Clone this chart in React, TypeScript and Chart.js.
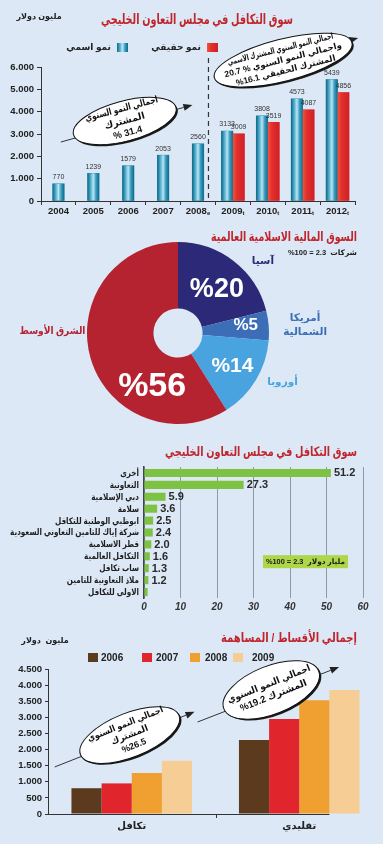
import React, { useEffect, useRef } from 'react';
import { Chart, registerables } from 'chart.js';
Chart.register(...registerables);

const FONT = "'Liberation Sans', 'DejaVu Sans', Arial, sans-serif";
const BG = '#dce8f5';
const TITLE_RED = '#c0262d';
const LRM = '\u200E';

// ---------- Chart 1: GCC takaful market (USD million)
const gccTitle = 'سوق التكافل في مجلس التعاون الخليجي';
const gccUnit = 'مليون دولار';
const gccYears = ['2004', '2005', '2006', '2007', '2008e', '2009t', '2010t', '2011t', '2012t'];
const gccNominal = [770, 1239, 1579, 2053, 2560, 3133, 3808, 4573, 5439];
const gccReal = [null, null, null, null, null, 3009, 3519, 4087, 4856];
const gccSeriesNames = ['نمو اسمي', 'نمو حقيقي'];
const gccBubbleA = ['اجمالي النمو السنوي', 'المشترك', '% 31.4'];
const gccBubbleB = ['اجمالي النمو السنوي المشترك الاسمي', '20.7 % واجمالي النمو السنوي', '%16.1 المشترك الحقيقي'];

// ---------- Chart 2: global Islamic finance market
const regionTitle = 'السوق المالية الاسلامية العالمية';
const regionNote = '%100 = 2.3  شركات';
const regionLabels = ['آسيا', 'أمريكا الشمالية', 'أوروبا', 'الشرق الأوسط'];
const regionShares = [20, 5, 14, 56];

// ---------- Chart 3: GCC takaful companies share
const companyTitle = 'سوق التكافل في مجلس التعاون الخليجي';
const companyNames = ['أخرى', 'التعاونية', 'دبي الإسلامية', 'سلامة', 'ابوظبي الوطنية للتكافل', 'شركة إياك للتامين التعاوني السعودية', 'قطر الاسلامية', 'التكافل العالمية', 'ساب تكافل', 'ملاذ التعاونية للتامين', 'الاولى للتكافل'];
const companyShares = [51.2, 27.3, 5.9, 3.6, 2.5, 2.4, 2.0, 1.6, 1.3, 1.2, 1.0];
const companyHiddenValue = [10];
const companyNote = '%100 = 2.3  مليار دولار';

// ---------- Chart 4: total premiums / contributions
const premTitle = 'إجمالي الأقساط / المساهمة';
const premUnit = 'مليون  دولار';
const premCats = ['تكافل', 'تقليدي'];
const premYears = ['2006', '2007', '2008', '2009'];
const prem2006 = [800, 2300];
const prem2007 = [950, 2950];
const prem2008 = [1270, 3530];
const prem2009 = [1650, 3850];
const premBubbleA = ['اجمالي النمو السنوي', 'المشترك', '%26.5'];
const premBubbleB = ['اجمالي النمو السنوي', '%19.2 المشترك'];

// ---------- helpers
function blueGrad(ctx: CanvasRenderingContext2D, x0: number, x1: number) {
  const g = ctx.createLinearGradient(x0, 0, x1, 0);
  g.addColorStop(0, '#0b6787');
  g.addColorStop(0.3, '#5fb6d3');
  g.addColorStop(0.5, '#b9e6f3');
  g.addColorStop(0.72, '#3f9fc1');
  g.addColorStop(1, '#0c6a8c');
  return g;
}
function redGrad(ctx: CanvasRenderingContext2D, x0: number, x1: number) {
  const g = ctx.createLinearGradient(x0, 0, x1, 0);
  g.addColorStop(0, '#f0553f');
  g.addColorStop(0.35, '#e3302c');
  g.addColorStop(1, '#cf2027');
  return g;
}

function bubble(ctx: CanvasRenderingContext2D, cx: number, cy: number, rx: number, ry: number, rot: number, lines: string[], size: number) {
  ctx.save();
  ctx.translate(cx, cy);
  ctx.rotate(rot);
  ctx.beginPath();
  ctx.ellipse(1.2, 2, rx, ry, 0, 0, Math.PI * 2);
  ctx.fillStyle = '#1a1a1a';
  ctx.fill();
  ctx.beginPath();
  ctx.ellipse(0, 0, rx, ry, 0, 0, Math.PI * 2);
  ctx.fillStyle = '#ffffff';
  ctx.fill();
  ctx.lineWidth = 1;
  ctx.strokeStyle = '#111';
  ctx.stroke();
  ctx.fillStyle = '#111';
  ctx.font = `bold ${size}px ${FONT}`;
  ctx.textAlign = 'center';
  ctx.textBaseline = 'middle';
  ctx.direction = 'ltr';
  const lh = size * 1.3;
  lines.forEach((l, i) => {
    const yo = (i - (lines.length - 1) / 2) * lh;
    const f = Math.max(0.2, 1 - (yo / ry) * (yo / ry));
    const avail = 2 * rx * Math.sqrt(f) * 0.9;
    ctx.fillText(LRM + l, 0, yo, avail);
  });
  ctx.restore();
}

function arrow(ctx: CanvasRenderingContext2D, x1: number, y1: number, x2: number, y2: number) {
  ctx.save();
  ctx.strokeStyle = '#333';
  ctx.fillStyle = '#222';
  ctx.lineWidth = 1;
  const a = Math.atan2(y2 - y1, x2 - x1);
  const hl = 9, hw = 3.5;
  const bx = x2 - hl * Math.cos(a), by = y2 - hl * Math.sin(a);
  ctx.beginPath();
  ctx.moveTo(x1, y1);
  ctx.lineTo(bx, by);
  ctx.stroke();
  ctx.beginPath();
  ctx.moveTo(x2, y2);
  ctx.lineTo(bx + hw * Math.sin(a), by - hw * Math.cos(a));
  ctx.lineTo(bx - hw * Math.sin(a), by + hw * Math.cos(a));
  ctx.closePath();
  ctx.fill();
  ctx.restore();
}

const thousands = (v: any) => (Number(v) < 1000 ? String(v) : (Number(v) / 1000).toFixed(3));

// ---------- configs
function gccConfig(): any {
  const plugin = {
    id: 'gccDecor',
    afterDatasetsDraw(chart: any) {
      const ctx = chart.ctx as CanvasRenderingContext2D;
      const xs = chart.scales.x, ys = chart.scales.y;
      chart.data.datasets.forEach((ds: any, di: number) => {
        const meta = chart.getDatasetMeta(di);
        meta.data.forEach((bar: any, i: number) => {
          const v = ds.data[i];
          if (v == null) return;
          const p = bar.getProps(['x', 'y', 'base', 'width'], true);
          const x0 = p.x - p.width / 2, x1 = p.x + p.width / 2;
          ctx.fillStyle = di === 0 ? blueGrad(ctx, x0, x1) : redGrad(ctx, x0, x1);
          ctx.fillRect(x0, p.y, p.width, p.base - p.y);
          ctx.fillStyle = '#333';
          ctx.font = `7px ${FONT}`;
          ctx.textAlign = 'center';
          ctx.textBaseline = 'bottom';
          ctx.fillText(String(v), p.x, p.y - 3);
        });
      });
      ctx.textBaseline = 'middle';
      chart.data.labels.forEach((lab: string, i: number) => {
        const x = xs.getPixelForValue(i);
        const yr = lab.slice(0, 4), suf = lab.slice(4);
        ctx.font = `bold 9.5px ${FONT}`;
        const w1 = ctx.measureText(yr).width;
        ctx.font = `bold 6px ${FONT}`;
        const w2 = suf ? ctx.measureText(suf).width : 0;
        const start = x - (w1 + w2) / 2;
        ctx.fillStyle = '#222';
        ctx.textAlign = 'left';
        ctx.font = `bold 9.5px ${FONT}`;
        ctx.fillText(yr, start, chart.chartArea.bottom + 10);
        if (suf) {
          ctx.font = `bold 6px ${FONT}`;
          ctx.fillText(suf, start + w1, chart.chartArea.bottom + 12);
        }
      });
      const dx = xs.getPixelForValue(4.3);
      ctx.save();
      ctx.strokeStyle = '#333';
      ctx.lineWidth = 1.2;
      ctx.setLineDash([5, 4]);
      ctx.beginPath();
      ctx.moveTo(dx, ys.getPixelForValue(6400));
      ctx.lineTo(dx, ys.getPixelForValue(0));
      ctx.stroke();
      ctx.restore();
      arrow(ctx, xs.getPixelForValue(0.07), ys.getPixelForValue(2640), xs.getPixelForValue(3.84), ys.getPixelForValue(4300));
      bubble(ctx, xs.getPixelForValue(1.9), ys.getPixelForValue(3580), 53, 20, -0.26, gccBubbleA, 9.5);
      arrow(ctx, xs.getPixelForValue(4.7), ys.getPixelForValue(5600), xs.getPixelForValue(8.59), ys.getPixelForValue(7300));
      bubble(ctx, xs.getPixelForValue(6.44), ys.getPixelForValue(6310), 71, 21, -0.25, gccBubbleB, 8.5);
    },
    afterDraw(chart: any) {
      const ctx = chart.ctx as CanvasRenderingContext2D;
      ctx.save();
      ctx.textBaseline = 'middle';
      ctx.textAlign = 'center';
      ctx.fillStyle = TITLE_RED;
      ctx.font = `bold 14px ${FONT}`;
      ctx.fillText(gccTitle, 197, 20, 192);
      ctx.fillStyle = '#222';
      ctx.font = `bold 8px ${FONT}`;
      ctx.fillText(gccUnit, 39, 17);
      const sqX = [117, 207];
      chart.data.datasets.forEach((ds: any, i: number) => {
        const x = sqX[i];
        ctx.fillStyle = i === 0 ? blueGrad(ctx, x, x + 11) : redGrad(ctx, x, x + 11);
        ctx.fillRect(x, 43, 11, 9);
        ctx.fillStyle = '#222';
        ctx.font = `bold 9px ${FONT}`;
        ctx.textAlign = 'right';
        ctx.fillText(ds.label, x - 6, 47.5);
      });
      ctx.restore();
    },
  };
  return {
    type: 'bar',
    data: {
      labels: gccYears,
      datasets: [
        { label: gccSeriesNames[0], data: gccNominal, backgroundColor: '#1b86a8', barThickness: 11.5, skipNull: true },
        { label: gccSeriesNames[1], data: gccReal, backgroundColor: '#e0262c', barThickness: 11.5, skipNull: true },
      ],
    },
    options: {
      responsive: false,
      animation: false,
      devicePixelRatio: 1,
      layout: { padding: { top: 67, right: 28, bottom: 5, left: 0 } },
      plugins: { legend: { display: false }, tooltip: { enabled: false } },
      scales: {
        x: {
          grid: { offset: true, drawOnChartArea: false, tickLength: 4, color: '#333' },
          border: { color: '#333' },
          ticks: { display: false },
          afterFit: (s: any) => { s.height = 16; },
        },
        y: {
          min: 0, max: 6000,
          ticks: { stepSize: 1000, callback: thousands, font: { family: FONT, size: 9.5, weight: 'bold' }, color: '#222', padding: 3 },
          grid: { drawOnChartArea: false, tickLength: 4, color: '#333' },
          border: { color: '#333' },
          afterFit: (s: any) => { s.width = 41; },
        },
      },
    },
    plugins: [plugin],
  };
}

function regionConfig(): any {
  const innerR = [0.64, 0.75, 0.70, 0.65];
  const innerShift = [4, -2, 0, -48];
  const innerSize = [27, 17, 21, 34];
  const outerR = [1.22, 1.4, 1.27, 1.38];
  const outerShift = [12, 1, -6, 17];
  const colors = ['#2c2a78', '#3c6db7', '#49a3de', '#b52230'];
  const plugin = {
    id: 'regionDecor',
    afterDatasetsDraw(chart: any) {
      const ctx = chart.ctx as CanvasRenderingContext2D;
      const meta = chart.getDatasetMeta(0);
      ctx.save();
      ctx.textAlign = 'center';
      ctx.textBaseline = 'middle';
      ctx.direction = 'ltr';
      meta.data.forEach((arc: any, i: number) => {
        const p = arc.getProps(['x', 'y', 'startAngle', 'endAngle', 'outerRadius'], true);
        const mid = (p.startAngle + p.endAngle) / 2;
        const a1 = mid + (innerShift[i] * Math.PI) / 180;
        const r1 = p.outerRadius * innerR[i];
        ctx.fillStyle = '#ffffff';
        ctx.font = `bold ${innerSize[i]}px ${FONT}`;
        ctx.fillText(LRM + '%' + regionShares[i], p.x + r1 * Math.cos(a1), p.y + r1 * Math.sin(a1));
        const a2 = mid + (outerShift[i] * Math.PI) / 180;
        const r2 = p.outerRadius * outerR[i];
        const ox = p.x + r2 * Math.cos(a2), oy = p.y + r2 * Math.sin(a2);
        ctx.fillStyle = colors[i];
        ctx.font = `bold 10.5px ${FONT}`;
        const words = i === 1 ? regionLabels[i].split(' ') : [regionLabels[i]];
        words.forEach((w, k) => ctx.fillText(w, ox, oy + (k - (words.length - 1) / 2) * 14, 66));
      });
      ctx.textAlign = 'right';
      ctx.fillStyle = TITLE_RED;
      ctx.font = `bold 13px ${FONT}`;
      ctx.fillText(regionTitle, 357, 15, 146);
      ctx.fillStyle = '#222';
      ctx.font = `bold 7.5px ${FONT}`;
      ctx.fillText(LRM + regionNote, 357, 31);
      ctx.restore();
    },
  };
  return {
    type: 'doughnut',
    data: { labels: regionLabels, datasets: [{ data: regionShares, backgroundColor: colors, borderWidth: 0 }] },
    options: {
      responsive: false,
      animation: false,
      devicePixelRatio: 1,
      cutout: '27%',
      layout: { padding: { left: 87, right: 114, top: 20, bottom: 1 } },
      plugins: { legend: { display: false }, tooltip: { enabled: false } },
    },
    plugins: [plugin],
  };
}

function companyConfig(): any {
  const plugin = {
    id: 'companyDecor',
    afterDatasetsDraw(chart: any) {
      const ctx = chart.ctx as CanvasRenderingContext2D;
      const xs = chart.scales.x, ys = chart.scales.y;
      const meta = chart.getDatasetMeta(0);
      ctx.save();
      ctx.direction = 'ltr';
      ctx.textAlign = 'left';
      ctx.textBaseline = 'middle';
      ctx.fillStyle = '#2a2a2a';
      ctx.font = `bold 11px ${FONT}`;
      meta.data.forEach((bar: any, i: number) => {
        if (companyHiddenValue.includes(i)) return;
        const p = bar.getProps(['x', 'y'], true);
        ctx.fillText(companyShares[i].toFixed(1), p.x + 3, p.y + 0.5);
      });
      // category labels (narrowed Arabic)
      ctx.textAlign = 'right';
      ctx.fillStyle = '#1e1e1e';
      ctx.font = `bold 9px ${FONT}`;
      chart.data.labels.forEach((lab: string, i: number) => {
        const w = ctx.measureText(lab).width;
        ctx.fillText(lab, chart.chartArea.left - 5, ys.getPixelForValue(i) + 0.5, w * 0.8);
      });
      // note box
      const bx0 = xs.getPixelForValue(32.6), bx1 = xs.getPixelForValue(55.9);
      const byc = ys.getPixelForValue(7.45);
      ctx.fillStyle = '#add649';
      ctx.fillRect(bx0, byc - 6.5, bx1 - bx0, 13);
      ctx.fillStyle = '#1a1a1a';
      ctx.font = `bold 7.5px ${FONT}`;
      ctx.textAlign = 'center';
      ctx.fillText(LRM + companyNote, (bx0 + bx1) / 2, byc + 0.5, bx1 - bx0 - 6);
      ctx.textAlign = 'right';
      ctx.fillStyle = TITLE_RED;
      ctx.font = `bold 13px ${FONT}`;
      ctx.fillText(companyTitle, 357, 27, 192);
      ctx.restore();
    },
  };
  return {
    type: 'bar',
    data: { labels: companyNames, datasets: [{ data: companyShares, backgroundColor: '#7dc242', categoryPercentage: 1, barPercentage: 0.68 }] },
    options: {
      indexAxis: 'y',
      responsive: false,
      animation: false,
      devicePixelRatio: 1,
      layout: { padding: { left: 0, right: 20, top: 42, bottom: 5 } },
      plugins: { legend: { display: false }, tooltip: { enabled: false } },
      scales: {
        x: {
          min: 0, max: 60,
          ticks: { stepSize: 10, font: { family: FONT, size: 10, style: 'italic', weight: 'bold' }, color: '#333', padding: 3 },
          grid: { color: '#8d99a6', lineWidth: 1, drawTicks: false },
          border: { display: false },
          afterFit: (s: any) => { s.height = 17; },
        },
        y: {
          ticks: { display: false },
          grid: { display: false, drawTicks: false },
          border: { color: '#444', width: 1.5 },
          afterFit: (s: any) => { s.width = 144; },
        },
      },
    },
    plugins: [plugin],
  };
}

function premConfig(): any {
  const colors = ['#5b3a1e', '#e0252d', '#f0a030', '#f6cd95'];
  const sqX = [88, 142, 190, 233];
  const txtX = [101, 156, 205, 252];
  const plugin = {
    id: 'premDecor',
    afterDatasetsDraw(chart: any) {
      const ctx = chart.ctx as CanvasRenderingContext2D;
      const xs = chart.scales.x, ys = chart.scales.y;
      const ca = chart.chartArea;
      ctx.save();
      ctx.strokeStyle = '#333';
      ctx.lineWidth = 1;
      ctx.beginPath();
      ctx.moveTo(ca.left, ca.bottom + 0.5);
      ctx.lineTo(xs.getPixelForValue(1.18), ca.bottom + 0.5);
      const mx = Math.round(xs.getPixelForValue(0.5)) + 0.5;
      ctx.moveTo(mx, ca.bottom);
      ctx.lineTo(mx, ca.bottom + 4);
      ctx.stroke();
      arrow(ctx, xs.getPixelForValue(-0.46), ys.getPixelForValue(1460), xs.getPixelForValue(0.375), ys.getPixelForValue(3170));
      arrow(ctx, xs.getPixelForValue(0.393), ys.getPixelForValue(2855), xs.getPixelForValue(1.238), ys.getPixelForValue(4560));
      bubble(ctx, xs.getPixelForValue(-0.012), ys.getPixelForValue(2450), 53, 22, -0.38, premBubbleA, 9);
      bubble(ctx, xs.getPixelForValue(0.833), ys.getPixelForValue(3850), 51, 24, -0.38, premBubbleB, 9.5);
      ctx.restore();
    },
    afterDraw(chart: any) {
      const ctx = chart.ctx as CanvasRenderingContext2D;
      ctx.save();
      ctx.textBaseline = 'middle';
      ctx.textAlign = 'right';
      ctx.fillStyle = TITLE_RED;
      ctx.font = `bold 13px ${FONT}`;
      ctx.fillText(premTitle, 357, 18, 136);
      ctx.fillStyle = '#222';
      ctx.textAlign = 'center';
      ctx.font = `bold 8px ${FONT}`;
      ctx.fillText(premUnit, 45, 21);
      chart.data.datasets.forEach((ds: any, i: number) => {
        ctx.fillStyle = ds.backgroundColor;
        ctx.fillRect(sqX[i], 33, 10, 9);
        ctx.fillStyle = '#222';
        ctx.font = `bold 10px ${FONT}`;
        ctx.textAlign = 'left';
        ctx.fillText(ds.label, txtX[i], 38);
      });
      ctx.restore();
    },
  };
  return {
    type: 'bar',
    data: {
      labels: premCats,
      datasets: [
        { label: premYears[0], data: prem2006, backgroundColor: colors[0] },
        { label: premYears[1], data: prem2007, backgroundColor: colors[1] },
        { label: premYears[2], data: prem2008, backgroundColor: colors[2] },
        { label: premYears[3], data: prem2009, backgroundColor: colors[3] },
      ],
    },
    options: {
      responsive: false,
      animation: false,
      devicePixelRatio: 1,
      categoryPercentage: 0.72,
      barPercentage: 1,
      layout: { padding: { top: 49, right: 0, bottom: 12, left: 0 } },
      plugins: { legend: { display: false }, tooltip: { enabled: false } },
      scales: {
        x: {
          grid: { display: false, drawTicks: false },
          border: { display: false },
          ticks: { font: { family: FONT, size: 10, weight: 'bold' }, color: '#222', padding: 6 },
          afterFit: (s: any) => { s.height = 18; },
        },
        y: {
          min: 0, max: 4500,
          ticks: { stepSize: 500, callback: thousands, font: { family: FONT, size: 9.5, weight: 'bold' }, color: '#222', padding: 3 },
          grid: { drawOnChartArea: false, tickLength: 3, color: '#333' },
          border: { color: '#333' },
          afterFit: (s: any) => { s.width = 48; },
        },
      },
    },
    plugins: [plugin],
  };
}

function ChartCanvas({ top, height, make }: { top: number; height: number; make: () => any }) {
  const ref = useRef<HTMLCanvasElement>(null);
  useEffect(() => {
    const chart = new Chart(ref.current as HTMLCanvasElement, make());
    return () => chart.destroy();
  }, []);
  return (
    <canvas
      ref={ref}
      width={383}
      height={height}
      style={{ position: 'absolute', left: 0, top, width: 383, height, display: 'block' }}
    />
  );
}

export default function App() {
  useEffect(() => {
    document.body.style.margin = '0';
    document.body.style.background = BG;
  }, []);
  return (
    <div style={{ position: 'relative', width: 383, height: 844, background: BG, overflow: 'hidden' }}>
      <ChartCanvas top={0} height={222} make={gccConfig} />
      <ChartCanvas top={222} height={203} make={regionConfig} />
      <ChartCanvas top={425} height={195} make={companyConfig} />
      <ChartCanvas top={620} height={224} make={premConfig} />
    </div>
  );
}
